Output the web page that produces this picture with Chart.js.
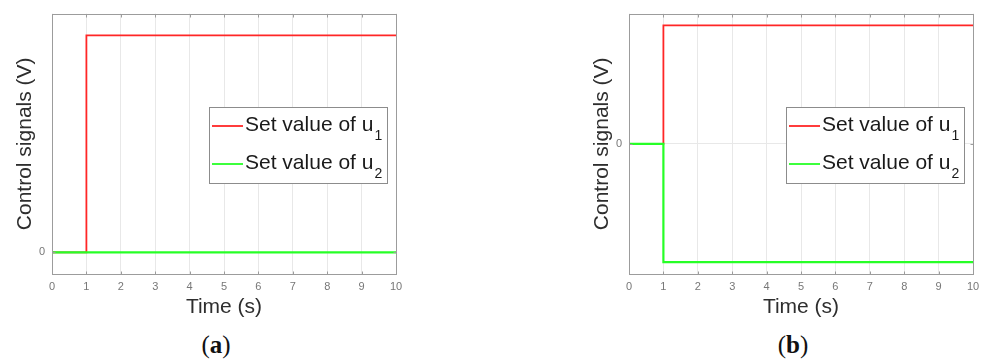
<!DOCTYPE html>
<html>
<head>
<meta charset="utf-8">
<script src="https://cdn.jsdelivr.net/npm/chart.js@4.4.1/dist/chart.umd.min.js"></script>
<style>
  html, body { margin: 0; padding: 0; background: #ffffff; }
  body { width: 992px; height: 360px; position: relative; overflow: hidden; }
  canvas { position: absolute; top: 0; }
  #chartA { left: 0; }
  #chartB { left: 577px; }
  .panel-label {
    position: absolute; top: 330px; width: 80px; text-align: center;
    font-family: "Liberation Serif", "DejaVu Serif", serif; font-size: 25px; color: #111;
    line-height: 30px;
  }
</style>
</head>
<body>
<canvas id="chartA" width="420" height="320"></canvas>
<canvas id="chartB" width="415" height="320"></canvas>
<div class="panel-label" id="labelA" style="left:176px">(<b>a</b>)</div>
<div class="panel-label" id="labelB" style="left:753px">(<b>b</b>)</div>
<script>
// Time axis (s) and step responses of the two control signals
const time = [0, 1, 10];
const u1A = [0, 1, 1];
const u2A = [0, 0, 0];
const u1B = [0, 1, 1];
const u2B = [0, -1, -1];

const xTicks = [0, 1, 2, 3, 4, 5, 6, 7, 8, 9, 10];
const yTicks = [0];
const yRangeA = [-0.1, 1.1];
const yRangeB = [-1.1, 1.1];

const seriesNames = ['Set value of u', 'Set value of u'];
const seriesSubs = ['1', '2'];
const seriesColors = ['#ff2626', '#26ff26'];

const FONT = '"Liberation Sans", Arial, Helvetica, sans-serif';

// Full box around the plot area with short inward tick marks
const frame = {
  id: 'frame',
  afterDatasetsDraw(chart) {
    const a = chart.chartArea, ctx = chart.ctx;
    const L = Math.round(a.left) + 0.5, T = Math.round(a.top) + 0.5;
    const R = Math.round(a.right) + 0.5, B = Math.round(a.bottom) + 0.5;
    ctx.save();
    ctx.strokeStyle = '#9c9c9c';
    ctx.lineWidth = 1;
    ctx.strokeRect(L, T, R - L, B - T);
    ctx.beginPath();
    chart.scales.x.ticks.forEach(t => {
      const px = Math.round(chart.scales.x.getPixelForValue(t.value)) + 0.5;
      ctx.moveTo(px, B); ctx.lineTo(px, B - 3);
      ctx.moveTo(px, T); ctx.lineTo(px, T + 3);
    });
    chart.scales.y.ticks.forEach(t => {
      const py = Math.round(chart.scales.y.getPixelForValue(t.value)) + 0.5;
      ctx.moveTo(L, py); ctx.lineTo(L + 3, py);
      ctx.moveTo(R, py); ctx.lineTo(R - 3, py);
    });
    ctx.stroke();
    ctx.restore();
  }
};

// Boxed legend with subscripted series names
const subLegend = {
  id: 'subLegend',
  afterDraw(chart) {
    const a = chart.chartArea, ctx = chart.ctx;
    const w = 178, h = 76;
    const x0 = Math.round(a.right - 9 - w), y0 = Math.round(a.top + 93);
    ctx.save();
    ctx.fillStyle = '#ffffff';
    ctx.fillRect(x0, y0, w, h);
    ctx.strokeStyle = '#8c8c8c';
    ctx.lineWidth = 1;
    ctx.strokeRect(x0 + 0.5, y0 + 0.5, w, h);
    seriesNames.forEach((name, i) => {
      const ry = y0 + 19 + i * 38;
      ctx.strokeStyle = seriesColors[i];
      ctx.lineWidth = 1.8;
      ctx.beginPath();
      ctx.moveTo(x0 + 3, ry);
      ctx.lineTo(x0 + 34, ry);
      ctx.stroke();
      ctx.fillStyle = '#1a1a1a';
      ctx.textBaseline = 'alphabetic';
      ctx.font = '21px ' + FONT;
      ctx.fillText(name, x0 + 36, ry + 5);
      const tw = ctx.measureText(name).width;
      ctx.font = '14px ' + FONT;
      ctx.fillText(seriesSubs[i], x0 + 36 + tw + 1, ry + 14);
    });
    ctx.restore();
  }
};

function makeChart(id, u1, u2, yRange, padRight) {
  const canvas = document.getElementById(id);
  const H = canvas.height;
  return new Chart(canvas, {
    type: 'line',
    data: {
      datasets: [
        { label: seriesNames[0] + seriesSubs[0], data: time.map((t, i) => ({ x: t, y: u1[i] })),
          borderColor: seriesColors[0], borderWidth: 1.8, stepped: 'before', pointRadius: 0, order: 1 },
        { label: seriesNames[1] + seriesSubs[1], data: time.map((t, i) => ({ x: t, y: u2[i] })),
          borderColor: seriesColors[1], borderWidth: 2.2, stepped: 'before', pointRadius: 0, order: 0 }
      ]
    },
    options: {
      responsive: false,
      animation: false,
      devicePixelRatio: 1,
      layout: { padding: { top: 12, right: padRight, left: 0, bottom: 0 } },
      plugins: { legend: { display: false }, tooltip: { enabled: false } },
      scales: {
        x: {
          type: 'linear', min: 0, max: 10,
          afterBuildTicks(s) { s.ticks = xTicks.map(v => ({ value: v })); },
          afterFit(s) { s.height = H - 274; },
          grid: { color: '#e8e8e8', drawTicks: false },
          border: { display: false },
          ticks: { font: { family: FONT, size: 11 }, color: '#777777', padding: 6, maxRotation: 0 },
          title: { display: true, text: 'Time (s)', font: { family: FONT, size: 21 }, color: '#2e2e2e',
                   padding: { top: 0, bottom: 0 } }
        },
        y: {
          type: 'linear', min: yRange[0], max: yRange[1],
          afterBuildTicks(s) { s.ticks = yTicks.map(v => ({ value: v })); },
          afterFit(s) { s.width = 52; },
          grid: { color: '#e8e8e8', drawTicks: false },
          border: { display: false },
          ticks: { font: { family: FONT, size: 11 }, color: '#777777', padding: 7 },
          title: { display: true, text: 'Control signals (V)', font: { family: FONT, size: 21 }, color: '#2e2e2e',
                   padding: { top: 13, bottom: 0 } }
        }
      }
    },
    plugins: [frame, subLegend]
  });
}

makeChart('chartA', u1A, u2A, yRangeA, 24);
makeChart('chartB', u1B, u2B, yRangeB, 19);
</script>
</body>
</html>
